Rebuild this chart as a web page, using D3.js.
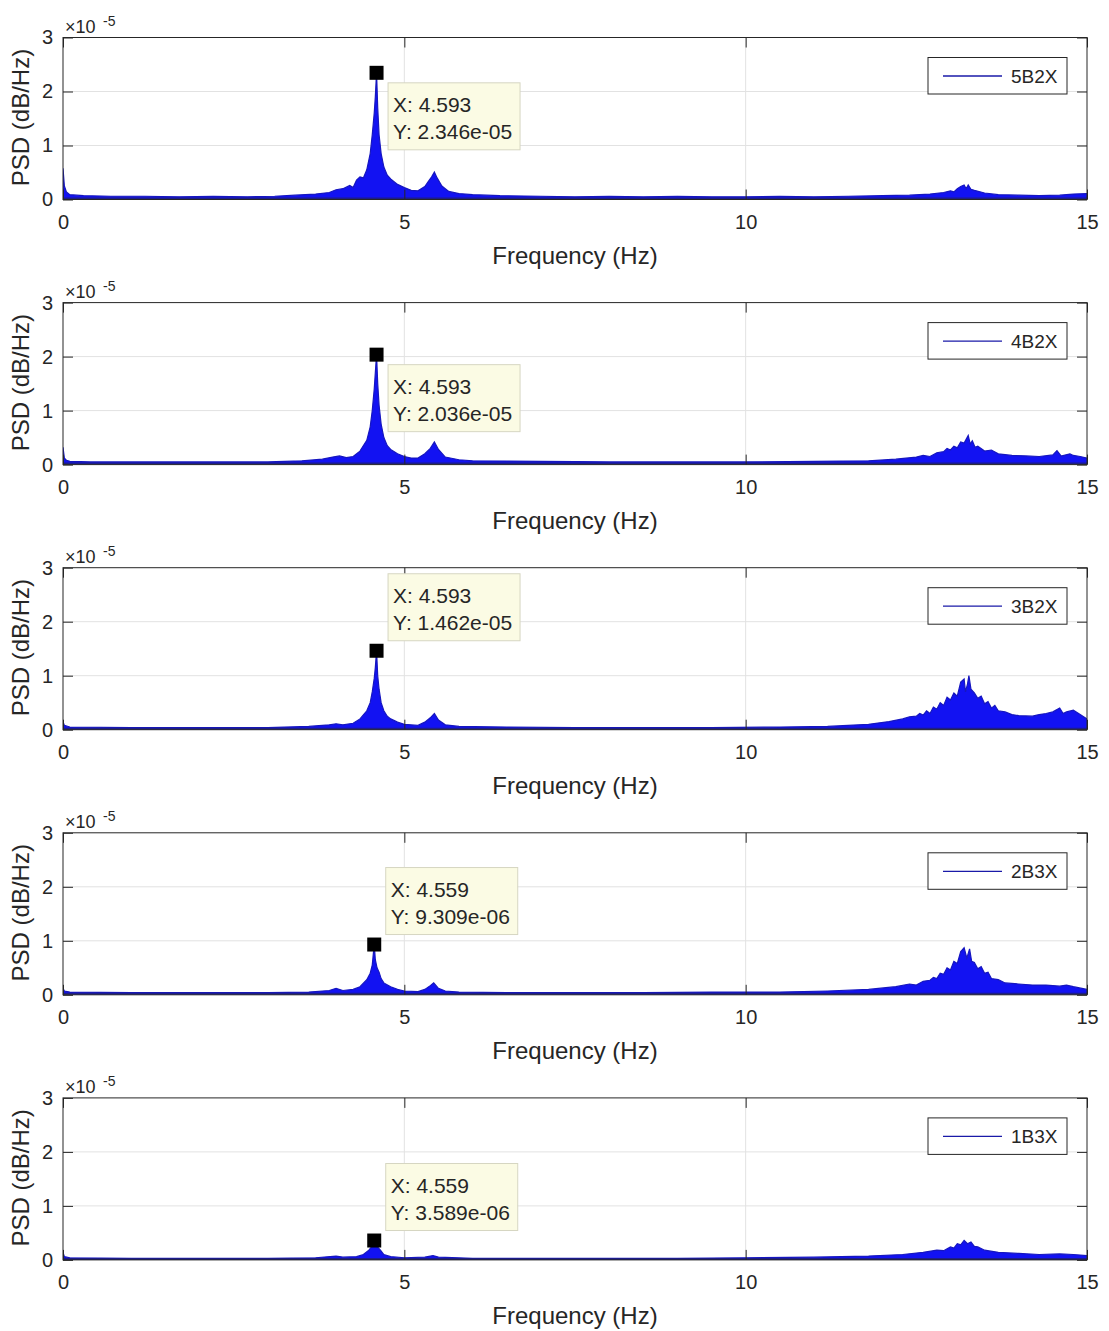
<!DOCTYPE html>
<html><head><meta charset="utf-8">
<script src="https://cdn.jsdelivr.net/npm/d3@7"></script>
<style>
body{margin:0;background:#fff}
svg{display:block}
text{font-family:"Liberation Sans",Arial,sans-serif}
</style>
</head><body>
<svg id="chart" width="1109" height="1331"></svg>
<script>
// ---- data (PSD values in units of 1e-5) ----
const seriesNames = ["5B2X", "4B2X", "3B2X", "2B3X", "1B3X"];
const xTicks = [0, 5, 10, 15];
const yTicks = [0, 1, 2, 3];

const psd5B2X = [[0,0.58],[0.02,0.25],[0.05,0.14],[0.1,0.09],[0.3,0.07],[0.7,0.06],[1.2,0.06],[1.7,0.05],[2.2,0.06],[2.7,0.05],[3.1,0.06],[3.4,0.08],[3.7,0.1],[3.9,0.13],[4.0,0.18],[4.1,0.2],[4.2,0.26],[4.25,0.22],[4.3,0.36],[4.35,0.42],[4.4,0.4],[4.45,0.55],[4.5,0.85],[4.53,1.2],[4.559,1.6],[4.575,1.9],[4.593,2.346],[4.61,1.7],[4.63,1.2],[4.66,0.85],[4.7,0.6],[4.75,0.45],[4.8,0.38],[4.85,0.33],[4.9,0.28],[5.0,0.22],[5.1,0.17],[5.2,0.16],[5.3,0.24],[5.35,0.33],[5.4,0.42],[5.44,0.51],[5.48,0.4],[5.55,0.25],[5.65,0.15],[5.8,0.11],[6.0,0.09],[6.4,0.07],[7.0,0.06],[7.5,0.05],[8.0,0.06],[8.5,0.05],[9.0,0.06],[9.5,0.05],[10.0,0.05],[10.5,0.06],[11.0,0.05],[11.5,0.06],[12.0,0.07],[12.4,0.08],[12.7,0.1],[12.9,0.13],[13.0,0.16],[13.05,0.14],[13.1,0.2],[13.15,0.24],[13.2,0.27],[13.23,0.2],[13.26,0.27],[13.3,0.19],[13.35,0.17],[13.5,0.12],[13.7,0.09],[14.0,0.08],[14.3,0.07],[14.6,0.08],[14.8,0.1],[15.0,0.11]];

const psd4B2X = [[0,0.32],[0.02,0.12],[0.05,0.08],[0.1,0.06],[0.4,0.05],[1.0,0.05],[2.0,0.05],[3.0,0.05],[3.5,0.07],[3.8,0.1],[3.95,0.14],[4.05,0.16],[4.15,0.13],[4.25,0.15],[4.35,0.25],[4.45,0.45],[4.5,0.7],[4.53,1.0],[4.559,1.4],[4.575,1.7],[4.593,2.036],[4.61,1.5],[4.63,1.1],[4.66,0.75],[4.7,0.5],[4.75,0.35],[4.8,0.28],[4.9,0.2],[5.0,0.15],[5.1,0.12],[5.2,0.12],[5.3,0.2],[5.38,0.3],[5.44,0.42],[5.5,0.28],[5.6,0.14],[5.8,0.09],[6.0,0.07],[7.0,0.06],[8.0,0.05],[9.0,0.05],[10.0,0.05],[11.0,0.06],[11.8,0.07],[12.2,0.1],[12.5,0.14],[12.6,0.17],[12.7,0.15],[12.8,0.22],[12.9,0.24],[12.95,0.3],[13.0,0.27],[13.05,0.34],[13.1,0.31],[13.15,0.42],[13.2,0.4],[13.26,0.54],[13.29,0.38],[13.32,0.44],[13.36,0.32],[13.4,0.34],[13.5,0.25],[13.6,0.27],[13.7,0.2],[13.9,0.17],[14.1,0.16],[14.3,0.15],[14.5,0.18],[14.56,0.26],[14.62,0.16],[14.75,0.2],[14.8,0.17],[14.9,0.15],[15.0,0.12]];

const psd3B2X = [[0,0.15],[0.02,0.08],[0.1,0.05],[1,0.04],[2,0.04],[3,0.04],[3.6,0.06],[3.9,0.09],[4.0,0.11],[4.1,0.09],[4.25,0.12],[4.35,0.2],[4.45,0.35],[4.5,0.5],[4.53,0.7],[4.559,0.95],[4.575,1.15],[4.593,1.462],[4.61,1.0],[4.63,0.75],[4.66,0.5],[4.7,0.35],[4.75,0.25],[4.8,0.2],[4.9,0.14],[5.0,0.1],[5.2,0.08],[5.3,0.14],[5.38,0.22],[5.44,0.3],[5.5,0.18],[5.6,0.09],[5.8,0.06],[6.5,0.05],[7.5,0.04],[8.5,0.04],[9.5,0.04],[10.5,0.05],[11.2,0.06],[11.8,0.1],[12.1,0.15],[12.3,0.2],[12.4,0.24],[12.5,0.25],[12.55,0.3],[12.6,0.27],[12.65,0.35],[12.7,0.3],[12.75,0.42],[12.8,0.38],[12.85,0.5],[12.9,0.45],[12.95,0.6],[13.0,0.55],[13.05,0.68],[13.1,0.62],[13.15,0.88],[13.2,0.94],[13.22,0.7],[13.25,0.85],[13.27,1.0],[13.3,0.75],[13.35,0.68],[13.4,0.58],[13.45,0.62],[13.5,0.48],[13.55,0.52],[13.6,0.4],[13.65,0.45],[13.7,0.35],[13.8,0.33],[13.9,0.28],[14.0,0.26],[14.2,0.25],[14.3,0.28],[14.4,0.3],[14.5,0.33],[14.6,0.4],[14.65,0.3],[14.7,0.33],[14.8,0.36],[14.9,0.28],[15.0,0.2]];

const psd2B3X = [[0,0.12],[0.02,0.07],[0.1,0.05],[1,0.04],[2,0.04],[3,0.04],[3.6,0.05],[3.9,0.08],[4.0,0.12],[4.1,0.08],[4.25,0.1],[4.35,0.15],[4.45,0.28],[4.5,0.4],[4.53,0.55],[4.559,0.9309],[4.575,0.65],[4.6,0.5],[4.63,0.42],[4.66,0.3],[4.7,0.22],[4.8,0.15],[4.9,0.1],[5.0,0.07],[5.2,0.06],[5.3,0.1],[5.38,0.17],[5.43,0.22],[5.5,0.12],[5.6,0.07],[5.8,0.05],[6.5,0.04],[7.5,0.04],[8.5,0.04],[9.5,0.05],[10.5,0.05],[11.2,0.07],[11.8,0.1],[12.2,0.15],[12.4,0.2],[12.5,0.18],[12.6,0.25],[12.7,0.27],[12.75,0.32],[12.8,0.3],[12.85,0.4],[12.9,0.38],[12.95,0.5],[13.0,0.46],[13.05,0.62],[13.1,0.58],[13.15,0.8],[13.2,0.87],[13.24,0.68],[13.28,0.85],[13.31,0.62],[13.35,0.6],[13.4,0.48],[13.45,0.52],[13.5,0.4],[13.55,0.42],[13.6,0.3],[13.7,0.28],[13.8,0.22],[14.0,0.2],[14.2,0.18],[14.4,0.18],[14.6,0.16],[14.7,0.18],[14.8,0.15],[15.0,0.1]];

const psd1B3X = [[0,0.14],[0.02,0.06],[0.1,0.04],[1,0.03],[2,0.03],[3,0.03],[3.7,0.04],[4.0,0.07],[4.1,0.05],[4.3,0.06],[4.4,0.1],[4.48,0.18],[4.52,0.24],[4.559,0.3589],[4.6,0.25],[4.65,0.18],[4.7,0.1],[4.8,0.06],[5.0,0.04],[5.3,0.05],[5.42,0.08],[5.5,0.05],[6,0.03],[7,0.03],[8,0.03],[9,0.03],[10,0.04],[11,0.05],[11.8,0.07],[12.3,0.1],[12.6,0.14],[12.8,0.18],[12.9,0.17],[13.0,0.24],[13.05,0.22],[13.1,0.3],[13.15,0.28],[13.2,0.36],[13.25,0.3],[13.3,0.33],[13.35,0.25],[13.4,0.24],[13.5,0.18],[13.7,0.14],[14.0,0.12],[14.3,0.1],[14.6,0.11],[14.8,0.1],[15.0,0.08]];

const seriesData = [psd5B2X, psd4B2X, psd3B2X, psd2B3X, psd1B3X];
const tipX = [4.593, 4.593, 4.593, 4.559, 4.559];
const tipY = [2.346, 2.036, 1.462, 0.9309, 0.3589];   // x 1e-5
const tipAbove = [false, false, true, true, true];

// ---- layout ----
const L = 63, R = 1087, top0 = 37.5, step = 265.1, H = 162;
const ink = "#262626";
const svg = d3.select("#chart");
const x = d3.scaleLinear().domain([0, 15]).range([L, R]);
const y = d3.scaleLinear().domain([0, 3]).range([H, 0]);

function fmtExp(v) {
  const s = v.toExponential(3);
  const [m, e] = s.split("e");
  const sign = e[0] === "-" ? "-" : "+";
  const d = e.replace(/[-+]/, "").padStart(2, "0");
  return m + "e" + sign + d;
}

svg.append("defs").append("clipPath").attr("id", "plotclip")
  .append("rect").attr("x", L).attr("y", 0).attr("width", R - L).attr("height", H);

seriesData.forEach((data, i) => {
  const g = svg.append("g").attr("transform", `translate(0,${top0 + i * step})`);

  // grid
  g.selectAll(".gy").data(yTicks.filter(t => t > 0 && t < 3)).enter().append("line")
    .attr("x1", L).attr("x2", R).attr("y1", d => y(d)).attr("y2", d => y(d))
    .attr("stroke", "#e2e2e2").attr("stroke-width", 1);
  g.selectAll(".gx").data(xTicks.filter(t => t > 0 && t < 15)).enter().append("line")
    .attr("y1", 0).attr("y2", H).attr("x1", d => x(d)).attr("x2", d => x(d))
    .attr("stroke", "#e2e2e2").attr("stroke-width", 1);

  // spectrum
  const area = d3.area().x(d => x(d[0])).y0(y(0)).y1(d => y(d[1]));
  const line = d3.line().x(d => x(d[0])).y(d => y(d[1]));
  const pg = g.append("g").attr("clip-path", "url(#plotclip)");
  pg.append("path").datum(data).attr("d", area).attr("fill", "#1212f2");
  pg.append("path").datum(data).attr("d", line).attr("fill", "none")
    .attr("stroke", "#1616c0").attr("stroke-width", 1.2);
  pg.append("line").attr("x1", L).attr("x2", R).attr("y1", H - 1).attr("y2", H - 1)
    .attr("stroke", "#1c1c8a").attr("stroke-width", 2);

  // axes (inside ticks)
  const axL = g.append("g").attr("transform", `translate(${L},0)`)
    .call(d3.axisLeft(y).tickValues(yTicks).tickSize(-10).tickSizeOuter(0).tickPadding(10).tickFormat(d3.format("d")));
  const axR = g.append("g").attr("transform", `translate(${R},0)`)
    .call(d3.axisRight(y).tickValues(yTicks).tickSize(-10).tickSizeOuter(0).tickFormat(""));
  const axB = g.append("g").attr("transform", `translate(0,${H})`)
    .call(d3.axisBottom(x).tickValues(xTicks).tickSize(-10).tickSizeOuter(0).tickPadding(15).tickFormat(d3.format("d")));
  const axT = g.append("g").attr("transform", `translate(0,0)`)
    .call(d3.axisTop(x).tickValues(xTicks).tickSize(-10).tickSizeOuter(0).tickFormat(""));
  [axL, axR, axB, axT].forEach(a => {
    a.attr("color", ink).attr("font-family", null).attr("font-size", null);
    a.select(".domain").remove();
    a.selectAll("line").attr("stroke-width", 1);
    a.selectAll("text").attr("font-size", 20).attr("fill", ink);
  });

  // box
  g.append("rect").attr("x", L).attr("y", 0).attr("width", R - L).attr("height", H)
    .attr("fill", "none").attr("stroke", ink).attr("stroke-width", 1);

  // exponent label
  g.append("text").attr("x", 65).attr("y", -4.5).attr("font-size", 18).attr("fill", ink).text("\u00d710");
  g.append("text").attr("x", 103).attr("y", -12).attr("font-size", 14).attr("fill", ink).text("-5");

  // axis labels
  g.append("text").attr("x", (L + R) / 2).attr("y", H + 64).attr("text-anchor", "middle")
    .attr("font-size", 24).attr("fill", ink).text("Frequency (Hz)");
  g.append("text").attr("transform", `translate(29,${H / 2 - 1}) rotate(-90)`).attr("text-anchor", "middle")
    .attr("font-size", 24).attr("fill", ink).text("PSD (dB/Hz)");

  // legend
  const lg = g.append("g");
  lg.append("rect").attr("x", 928).attr("y", 20).attr("width", 139).attr("height", 36.5)
    .attr("fill", "#fff").attr("stroke", ink).attr("stroke-width", 1);
  lg.append("line").attr("x1", 943).attr("x2", 1002).attr("y1", 38.5).attr("y2", 38.5)
    .attr("stroke", "#1a1aa8").attr("stroke-width", 1.3);
  lg.append("text").attr("x", 1011).attr("y", 45.5).attr("font-size", 19).attr("fill", ink).text(seriesNames[i]);

  // data tip
  const mx = x(tipX[i]), my = y(tipY[i]);
  const bw = 132, bh = 67;
  const bx = mx + 11.5;
  const by = tipAbove[i] ? my - 10 - bh : my + 10;
  const tg = g.append("g");
  tg.append("rect").attr("x", bx).attr("y", by).attr("width", bw).attr("height", bh)
    .attr("fill", "#fbfbe4").attr("stroke", "#d6d6c2").attr("stroke-width", 1);
  tg.append("text").attr("x", bx + 5).attr("y", by + 29).attr("font-size", 21).attr("fill", ink)
    .text("X: " + tipX[i].toFixed(3));
  tg.append("text").attr("x", bx + 5).attr("y", by + 56).attr("font-size", 21).attr("fill", ink)
    .text("Y: " + fmtExp(tipY[i] * 1e-5));
  g.append("rect").attr("x", mx - 7).attr("y", my - 7).attr("width", 14).attr("height", 14).attr("fill", "#000");
});
</script>
</body></html>
